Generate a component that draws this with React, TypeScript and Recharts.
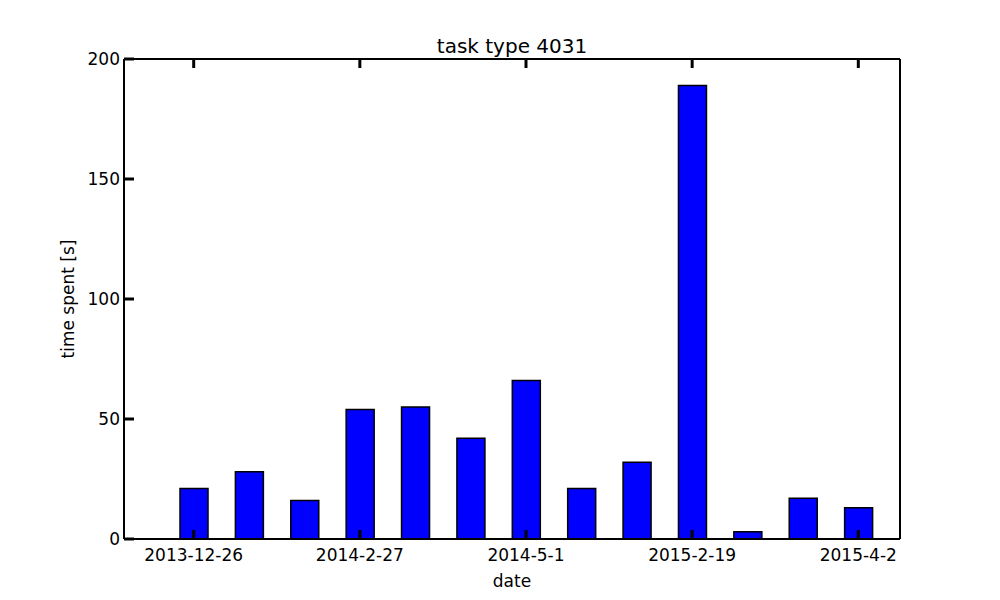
import React from "react";
import { BarChart, Bar, XAxis, YAxis, Customized } from "recharts";

const dateLabels = ["2013-12-26", "", "", "2014-2-27", "", "", "2014-5-1", "", "", "2015-2-19", "", "", "2015-4-2"];
const timeSpent = [21, 28, 16, 54, 55, 42, 66, 21, 32, 189, 3, 17, 13];
const yTicks = [0, 50, 100, 150, 200];

const data = dateLabels.map((d, i) => ({ date: d, idx: i, value: timeSpent[i] }));

const FONT = "'DejaVu Sans', sans-serif";

const LeftTick = (props: any) => {
  const { x, y, payload } = props;
  return (
    <g>
      <line x1={x} x2={x + 10} y1={y} y2={y} stroke="#000" strokeWidth={3} />
      <text x={x - 4} y={y} dy={6} textAnchor="end" fontFamily={FONT} fontSize={17} fill="#000">
        {payload.value}
      </text>
    </g>
  );
};

const RightTick = (props: any) => {
  const { x, y } = props;
  return <line x1={x - 10} x2={x} y1={y} y2={y} stroke="#000" strokeWidth={3} />;
};

const BottomTick = (props: any) => {
  const { x, y, payload } = props;
  return (
    <g>
      <line x1={x} x2={x} y1={y} y2={y - 9} stroke="#000" strokeWidth={3} />
      <text x={x} y={y + 22} textAnchor="middle" fontFamily={FONT} fontSize={17} fill="#000">
        {dateLabels[payload.value]}
      </text>
    </g>
  );
};

const TopTick = (props: any) => {
  const { x, y } = props;
  return <line x1={x} x2={x} y1={y} y2={y + 9} stroke="#000" strokeWidth={3} />;
};

const Texts = () => (
  <g fontFamily={FONT} fill="#000">
    <text x={512} y={53} textAnchor="middle" fontSize={20}>task type 4031</text>
    <text x={512} y={587} textAnchor="middle" fontSize={17}>date</text>
    <text x={74} y={299} textAnchor="middle" fontSize={17} transform="rotate(-90, 74, 299)">time spent [s]</text>
  </g>
);

export default function App() {
  return (
    <div style={{ position: "absolute", left: 0, top: 0, width: 1000, height: 600, background: "#fff" }}>
      <BarChart width={1000} height={600} data={data} margin={{ top: 58, right: 99, bottom: 0, left: 64 }}>
        <XAxis
          dataKey="idx"
          xAxisId="bottom"
          type="category"
          height={61}
          interval={2}
          padding={{ left: 42, right: 14 }}
          axisLine={{ stroke: "#000", strokeWidth: 2 }}
          tickLine={false}
          tickSize={0}
          tickMargin={0}
          tick={<BottomTick />}
        />
        <XAxis
          dataKey="idx"
          xAxisId="top"
          orientation="top"
          type="category"
          height={1}
          interval={2}
          padding={{ left: 42, right: 14 }}
          axisLine={{ stroke: "#000", strokeWidth: 2 }}
          tickLine={false}
          tickSize={0}
          tickMargin={0}
          tick={<TopTick />}
        />
        <YAxis
          yAxisId="left"
          width={60}
          domain={[0, 200]}
          ticks={yTicks}
          interval={0}
          axisLine={{ stroke: "#000", strokeWidth: 2 }}
          tickLine={false}
          tickSize={0}
          tickMargin={0}
          tick={<LeftTick />}
        />
        <YAxis
          yAxisId="right"
          orientation="right"
          width={1}
          domain={[0, 200]}
          ticks={yTicks}
          interval={0}
          axisLine={{ stroke: "#000", strokeWidth: 2 }}
          tickLine={false}
          tickSize={0}
          tickMargin={0}
          tick={<RightTick />}
        />
        <Bar
          dataKey="value"
          xAxisId="bottom"
          yAxisId="left"
          barSize={28}
          fill="#0000ff"
          stroke="#000"
          strokeWidth={1.5}
          isAnimationActive={false}
        />
        <Customized component={Texts} />
      </BarChart>
    </div>
  );
}
